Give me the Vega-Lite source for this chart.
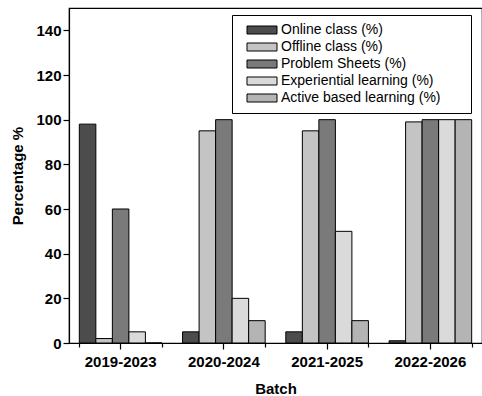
{
  "$schema": "https://vega.github.io/schema/vega-lite/v6.json",
  "width": 413,
  "height": 335,
  "autosize": {"type": "none"},
  "padding": {"left": 69, "top": 8, "right": 0, "bottom": 53},
  "background": "white",
  "config": {
    "font": "Liberation Sans",
    "view": {"stroke": "black", "strokeWidth": 1.2},
    "axis": {
      "domainColor": "black",
      "domainWidth": 1.2,
      "tickColor": "black",
      "tickWidth": 1.2,
      "labelColor": "black",
      "titleColor": "black",
      "grid": false
    }
  },
  "data": {
    "values": [
      {"batch": "2019-2023", "method": "Online class (%)", "value": 98},
      {"batch": "2019-2023", "method": "Offline class (%)", "value": 2},
      {"batch": "2019-2023", "method": "Problem Sheets (%)", "value": 60},
      {"batch": "2019-2023", "method": "Experiential learning (%)", "value": 5},
      {"batch": "2019-2023", "method": "Active based learning (%)", "value": 0},
      {"batch": "2020-2024", "method": "Online class (%)", "value": 5},
      {"batch": "2020-2024", "method": "Offline class (%)", "value": 95},
      {"batch": "2020-2024", "method": "Problem Sheets (%)", "value": 100},
      {"batch": "2020-2024", "method": "Experiential learning (%)", "value": 20},
      {"batch": "2020-2024", "method": "Active based learning (%)", "value": 10},
      {"batch": "2021-2025", "method": "Online class (%)", "value": 5},
      {"batch": "2021-2025", "method": "Offline class (%)", "value": 95},
      {"batch": "2021-2025", "method": "Problem Sheets (%)", "value": 100},
      {"batch": "2021-2025", "method": "Experiential learning (%)", "value": 50},
      {"batch": "2021-2025", "method": "Active based learning (%)", "value": 10},
      {"batch": "2022-2026", "method": "Online class (%)", "value": 1},
      {"batch": "2022-2026", "method": "Offline class (%)", "value": 99},
      {"batch": "2022-2026", "method": "Problem Sheets (%)", "value": 100},
      {"batch": "2022-2026", "method": "Experiential learning (%)", "value": 100},
      {"batch": "2022-2026", "method": "Active based learning (%)", "value": 100}
    ]
  },
  "layer": [
    {
      "mark": {"type": "bar", "stroke": "black", "strokeWidth": 1, "filled": true},
      "encoding": {
        "x": {
          "field": "batch",
          "type": "nominal",
          "sort": null,
          "scale": {"paddingInner": 0.2, "paddingOuter": 0.1},
          "axis": {
            "title": "Batch",
            "titleFontSize": 15,
            "titleFontWeight": "bold",
            "titlePadding": 12,
            "labelFontSize": 15,
            "labelFontWeight": "bold",
            "labelAngle": 0,
            "labelPadding": 5,
            "tickSize": 6,
            "tickBand": "center"
          }
        },
        "xOffset": {
          "field": "method",
          "type": "nominal",
          "sort": null,
          "scale": {"paddingInner": 0, "paddingOuter": 0}
        },
        "y": {
          "field": "value",
          "type": "quantitative",
          "scale": {"domain": [0, 150], "nice": false},
          "axis": {
            "title": "Percentage %",
            "titleFontSize": 15,
            "titleFontWeight": "bold",
            "titlePadding": 10,
            "values": [0, 10, 20, 30, 40, 50, 60, 70, 80, 90, 100, 110, 120, 130, 140],
            "labelExpr": "datum.value % 20 === 0 ? datum.label : ''",
            "labelFontSize": 15,
            "labelFontWeight": "bold",
            "labelPadding": 2,
            "tickSize": {"condition": {"test": "datum.value % 20 === 0", "value": 6}, "value": 3}
          }
        },
        "fill": {
          "field": "method",
          "type": "nominal",
          "sort": null,
          "scale": {
            "domain": ["Online class (%)", "Offline class (%)", "Problem Sheets (%)", "Experiential learning (%)", "Active based learning (%)"],
            "range": ["#4c4c4c", "#c4c4c4", "#7a7a7a", "#dadada", "#b4b4b4"]
          },
          "legend": {
            "title": " ",
            "titleOrient": "right",
            "titlePadding": 22,
            "orient": "none",
            "legendX": 163,
            "legendY": 7,
            "padding": 8,
            "strokeColor": "black",
            "fillColor": "white",
            "labelFontSize": 14,
            "labelColor": "black",
            "labelOffset": 12,
            "symbolOffset": 15,
            "rowPadding": 3,
            "symbolType": "M-3,-0.8H3V0.8H-3Z",
            "symbolSize": 100,
            "symbolStrokeColor": "black",
            "symbolStrokeWidth": 1,
            "symbolOpacity": 1
          }
        }
      }
    },
    {
      "mark": {"type": "bar", "opacity": 0},
      "encoding": {
        "x": {
          "field": "batch",
          "type": "nominal",
          "sort": null,
          "axis": {
            "orient": "bottom",
            "title": null,
            "labels": false,
            "domain": false,
            "tickSize": 4,
            "tickBand": "extent"
          }
        },
        "xOffset": {"field": "method", "type": "nominal", "sort": null},
        "y": {"field": "value", "type": "quantitative"}
      }
    }
  ],
  "resolve": {"axis": {"x": "independent"}}
}
